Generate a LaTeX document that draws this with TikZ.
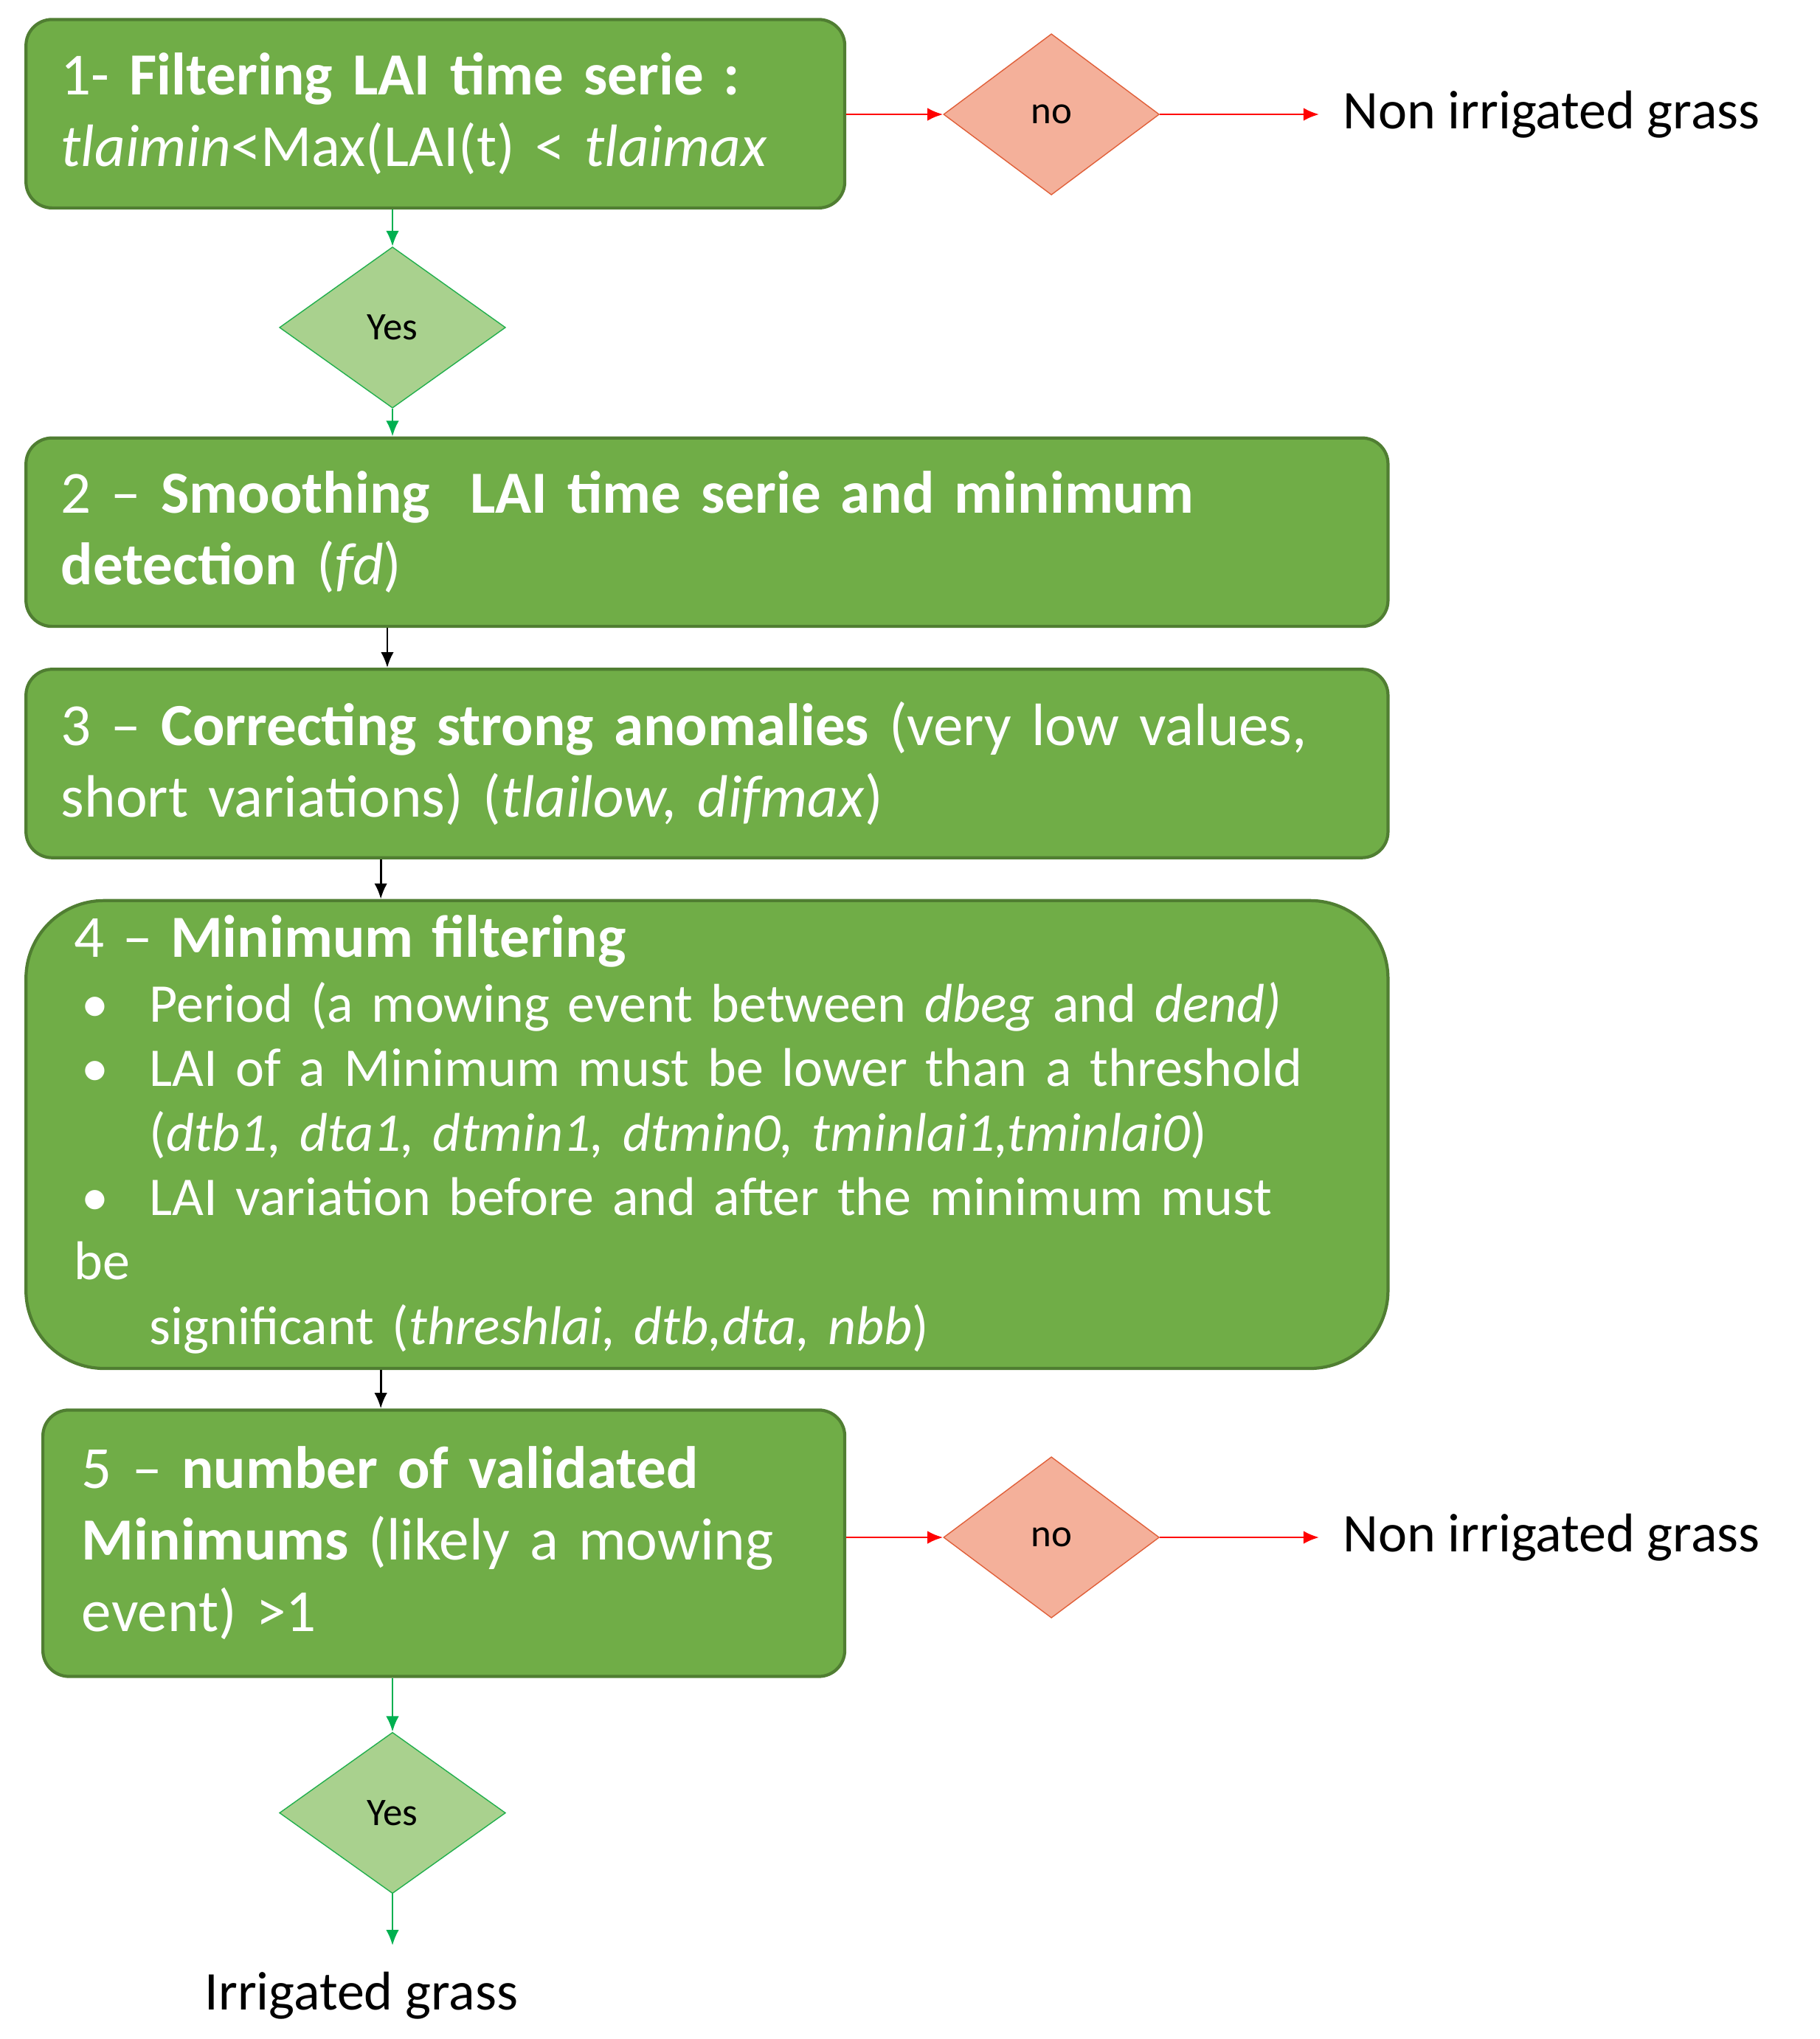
\documentclass[tikz,border=0pt]{standalone}
\usepackage{fontspec}
\setmainfont{Carlito}
\usetikzlibrary{shapes.geometric,arrows.meta}
\definecolor{gfill}{HTML}{70AD47}
\definecolor{gdraw}{HTML}{507E32}
\definecolor{dfill}{HTML}{A9D18E}
\definecolor{ofill}{HTML}{F4B09A}
\definecolor{odraw}{HTML}{E0603A}
\definecolor{garr}{HTML}{00B050}
\begin{document}
\begin{tikzpicture}[x=0.5pt,y=-0.5pt,
 box/.style={draw=gdraw,line width=1.2pt,fill=gfill,rounded corners=10pt,text=white,align=left,font=\fontsize{23}{27.5}\selectfont,inner ysep=0pt},
 dia/.style={diamond,aspect=1.4,inner sep=0pt,font=\fontsize{15}{18}\selectfont},
 ydia/.style={dia,draw=garr!70!gfill,fill=dfill,minimum width=87pt,minimum height=62pt},
 ndia/.style={dia,draw=odraw,fill=ofill,minimum width=83pt,minimum height=62pt},
 ga/.style={draw=garr,line width=0.8pt,-{Latex[length=6pt,width=5pt]}},
 ra/.style={draw=red,line width=0.8pt,-{Latex[length=6pt,width=5pt]}},
 ka/.style={draw=black,line width=0.8pt,-{Latex[length=6pt,width=5pt]}},
 lab/.style={font=\fontsize{21}{25}\selectfont}]
\useasboundingbox (0,0) rectangle (1400,1569);
\node[box,minimum width=315pt,minimum height=72.5pt,text width=288pt,inner xsep=13.5pt] (b1) at (335,87.5)
 {1- \textbf{Filtering LAI time serie :}\\\textit{tlaimin}<Max(LAI(t) < \textit{tlaimax}};
\node[box,minimum width=524pt,minimum height=72.5pt,text width=497pt,inner xsep=13.5pt] (b2) at (544,409.5)
 {2 – \textbf{Smoothing\ \ LAI time serie and minimum}\\\textbf{detection} (\textit{fd})};
\node[box,minimum width=524pt,minimum height=72.5pt,text width=497pt,inner xsep=13.5pt] (b3) at (544,587.5)
 {3 – \textbf{Correcting strong anomalies} (very low values,\\short variations) (\textit{tlailow, difmax})};
\node[box,rounded corners=30pt,minimum width=524pt,minimum height=180pt,text width=487pt,inner xsep=18.5pt,font=\fontsize{21}{24.8}\selectfont] (b4) at (544,873)
 {{\fontsize{23}{25}\selectfont 4 – \textbf{Minimum filtering}}\\
 \hspace*{3pt}\makebox[26pt][l]{\textbullet}Period (a mowing event between \textit{dbeg} and \textit{dend)}\\
 \hspace*{3pt}\makebox[26pt][l]{\textbullet}LAI of a Minimum must be lower than a threshold\\
 \hspace*{29pt}(\textit{dtb1, dta1, dtmin1, dtmin0, tminlai1,tminlai0})\\
 \hspace*{3pt}\makebox[26pt][l]{\textbullet}LAI variation before and after the minimum must be\\
 \hspace*{29pt}significant (\textit{threshlai, dtb,dta, nbb})};
\node[box,minimum width=308.5pt,minimum height=102.5pt,text width=278.5pt,inner xsep=15pt] (b5) at (341.5,1187.5)
 {5 – \textbf{number of validated}\\\textbf{Minimums} (likely a mowing\\event) >1};
\node[ydia] (y1) at (302,252) {Yes};
\node[ydia] (y2) at (302,1395) {Yes};
\node[ndia] (n1) at (809,88) {no};
\node[ndia] (n2) at (809,1183) {no};
\node[lab,anchor=west,inner sep=0pt] (t1) at (1033,88) {Non irrigated grass};
\node[lab,anchor=west,inner sep=0pt] (t2) at (1033,1183) {Non irrigated grass};
\node[lab,anchor=north,inner sep=0pt] (t3) at (278,1517) {Irrigated grass};
\coordinate (x1) at (298,0);
\coordinate (x2) at (293,0);
\coordinate (e1) at (1015,88);
\coordinate (e2) at (1015,1183);
\coordinate (e3) at (302,1497);
\draw[ra] (n1.west -| b1.east) -- (n1.west);
\draw[ra] (n1.east) -- (e1);
\draw[ra] (n2.west -| b5.east) -- (n2.west);
\draw[ra] (n2.east) -- (e2);
\draw[ga] (y1.north |- b1.south) -- (y1.north);
\draw[ga] (y1.south) -- (y1.south |- b2.north);
\draw[ka] (b2.south -| x1) -- (b3.north -| x1);
\draw[ka] (b3.south -| x2) -- (b4.north -| x2);
\draw[ka] (b4.south -| x2) -- (b5.north -| x2);
\draw[ga] (y2.north |- b5.south) -- (y2.north);
\draw[ga] (y2.south) -- (e3);
\end{tikzpicture}
\end{document}
